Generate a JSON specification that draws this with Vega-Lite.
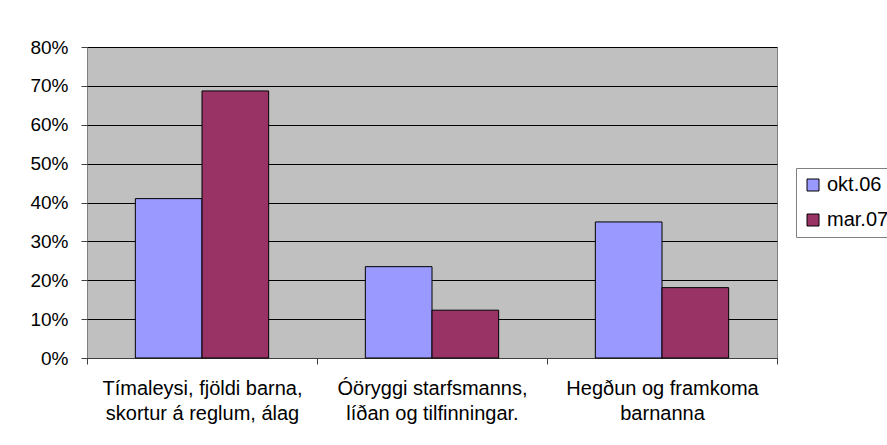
{
  "$schema": "https://vega.github.io/schema/vega-lite/v6.json",
  "width": 690,
  "height": 311,
  "autosize": "none",
  "padding": {"left": 87, "top": 47, "right": 110, "bottom": 87},
  "background": "white",
  "data": {
    "values": [
      {"cat": "Tímaleysi, fjöldi barna, skortur á reglum, álag", "series": "okt.06", "value": 0.41},
      {"cat": "Tímaleysi, fjöldi barna, skortur á reglum, álag", "series": "mar.07", "value": 0.687},
      {"cat": "Óöryggi starfsmanns, líðan og tilfinningar.", "series": "okt.06", "value": 0.235},
      {"cat": "Óöryggi starfsmanns, líðan og tilfinningar.", "series": "mar.07", "value": 0.123},
      {"cat": "Hegðun og framkoma barnanna", "series": "okt.06", "value": 0.35},
      {"cat": "Hegðun og framkoma barnanna", "series": "mar.07", "value": 0.181}
    ]
  },
  "mark": {"type": "bar", "stroke": "black", "strokeWidth": 1},
  "encoding": {
    "x": {
      "field": "cat",
      "type": "nominal",
      "sort": null,
      "scale": {"paddingInner": 0, "paddingOuter": 0},
      "axis": {
        "title": null,
        "labelAngle": 0,
        "tickBand": "extent",
        "tickSize": 6,
        "tickColor": "#404040",
        "domainColor": "#404040",
        "labelFontSize": 20,
        "labelColor": "black",
        "labelPadding": 14,
        "labelBaseline": "top",
        "labelLineHeight": 25,
        "labelLimit": 0,
        "labelOverlap": false,
        "labelBound": false,
        "labelExpr": "datum.value == 'Tímaleysi, fjöldi barna, skortur á reglum, álag' ? ['Tímaleysi, fjöldi barna,', 'skortur á reglum, álag'] : datum.value == 'Óöryggi starfsmanns, líðan og tilfinningar.' ? ['Óöryggi starfsmanns,', 'líðan og tilfinningar.'] : datum.value == 'Hegðun og framkoma barnanna' ? ['Hegðun og framkoma', 'barnanna'] : ''"
      }
    },
    "xOffset": {
      "field": "series",
      "type": "nominal",
      "sort": ["okt.06", "mar.07"],
      "scale": {"paddingInner": 0, "paddingOuter": 0.725}
    },
    "y": {
      "field": "value",
      "type": "quantitative",
      "scale": {"domain": [0, 0.8], "nice": false},
      "axis": {
        "title": null,
        "values": [0, 0.1, 0.2, 0.3, 0.4, 0.5, 0.6, 0.7, 0.8],
        "format": ".0%",
        "grid": true,
        "gridColor": "black",
        "gridOpacity": 1,
        "gridWidth": 1,
        "domain": false,
        "tickSize": 6,
        "tickColor": "#404040",
        "labelFontSize": 19,
        "labelColor": "black",
        "labelPadding": 13
      }
    },
    "color": {
      "field": "series",
      "type": "nominal",
      "scale": {"domain": ["okt.06", "mar.07"], "range": ["#9999FF", "#993366"]},
      "legend": {
        "title": null,
        "orient": "none",
        "legendX": 709,
        "legendY": 121,
        "direction": "vertical",
        "symbolType": "square",
        "symbolSize": 144,
        "symbolStrokeColor": "black",
        "symbolStrokeWidth": 1,
        "symbolOpacity": 1,
        "labelFontSize": 20,
        "labelColor": "black",
        "labelOffset": 4,
        "padding": 7,
        "rowPadding": 15,
        "strokeColor": "#808080",
        "fillColor": "white"
      }
    }
  },
  "config": {
    "font": "Liberation Sans",
    "view": {"fill": "#C0C0C0", "stroke": "#808080"}
  }
}
